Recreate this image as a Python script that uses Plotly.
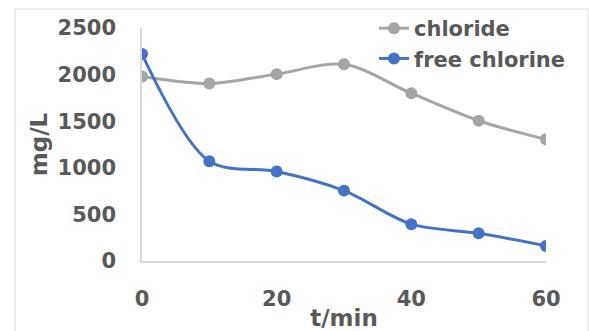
import plotly.graph_objects as go

t_min = [0, 10, 20, 30, 40, 50, 60]
chloride = [1980, 1905, 2005, 2110, 1800, 1505, 1305]
free_chlorine = [2220, 1070, 960, 755, 395, 297, 162]
x_ticks = [0, 20, 40, 60]
y_ticks = [0, 500, 1000, 1500, 2000, 2500]

FONT = "DejaVu Sans"
TXT = "#595959"

fig = go.Figure()
fig.add_trace(go.Scatter(
    x=t_min, y=chloride, name="chloride", mode="lines+markers",
    legendgroup="a",
    line=dict(color="#A5A5A5", width=3, shape="spline", smoothing=0.9),
    marker=dict(color="#A5A5A5", size=12),
))
fig.add_trace(go.Scatter(
    x=t_min, y=free_chlorine, name="free chlorine", mode="lines+markers",
    legendgroup="b",
    line=dict(color="#4472C4", width=3, shape="spline", smoothing=0.9),
    marker=dict(color="#4472C4", size=12),
))

L, R, T, B = 142, 43, 28, 70
W, H = 589, 331
pw = W - L - R
ph = H - T - B

fig.update_layout(
    width=W, height=H,
    margin=dict(l=L, r=R, t=T, b=B, autoexpand=False),
    paper_bgcolor="white", plot_bgcolor="white",
    font=dict(family=FONT, size=21, color=TXT),
    showlegend=True,
    legend=dict(
        x=(374 - L) / pw, y=(H - B - 8) / ph, xanchor="left", yanchor="top",
        font=dict(family=FONT, size=21, color=TXT, weight="bold"),
        bgcolor="rgba(0,0,0,0)", itemwidth=30,
        traceorder="grouped", tracegroupgap=0,
    ),
    xaxis=dict(
        range=[0, 60], tickvals=x_ticks, showgrid=False, zeroline=False,
        showline=True, linecolor="#D9D9D9", linewidth=1.5,
        ticks="", ticklabelstandoff=18, automargin=False,
        tickfont=dict(family=FONT, size=21, color=TXT, weight="bold"),
        title=dict(text="t/min", standoff=0,
                   font=dict(family=FONT, size=23, color=TXT, weight="bold")),
    ),
    yaxis=dict(
        range=[0, 2500], tickvals=y_ticks, showgrid=False, zeroline=False,
        showline=True, linecolor="#D9D9D9", linewidth=1.5,
        ticks="", ticklabelstandoff=20, automargin=False,
        tickfont=dict(family=FONT, size=21, color=TXT, weight="bold"),
        title=dict(text="mg/L", standoff=4,
                   font=dict(family=FONT, size=23, color=TXT, weight="bold")),
    ),
    shapes=[dict(
        type="rect", xref="paper", yref="paper",
        x0=(15 - L) / pw, x1=(588 - L) / pw,
        y0=(H - B - 340) / ph, y1=(H - B - 9) / ph,
        line=dict(color="#D9D9D9", width=1), layer="below",
    )],
)

fig.write_html("out.html")
